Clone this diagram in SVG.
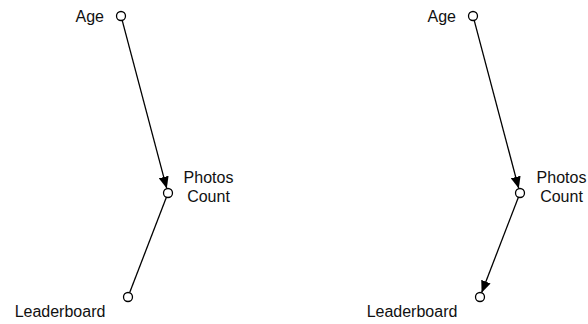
<svg xmlns="http://www.w3.org/2000/svg" width="588" height="324" viewBox="0 0 588 324">
  <style>
    .bg { fill: #ffffff; }
    .node circle { fill: #ffffff; stroke: #000000; stroke-width: 1.3; }
    .label { font-family: "Liberation Sans", Arial, Helvetica, sans-serif; font-size: 16px; fill: #111111; }
    .edge { stroke: #000000; stroke-width: 1.3; fill: none; }
    .arrow { marker-end: url(#head); }
  </style>
  <defs>
    <marker id="head" markerUnits="userSpaceOnUse" markerWidth="13" markerHeight="10" refX="12" refY="5" orient="auto">
      <path d="M0,0 L12,5 L0,10 z" fill="#000000"/>
    </marker>
  </defs>
  <rect class="bg" x="0" y="0" width="588" height="324"/>

  <!-- left graph: Age -> Photos Count - Leaderboard -->
  <g id="left">
    <g id="left-edges">
      <line class="edge arrow" x1="122.2" y1="20.4" x2="166.8" y2="188.6"/>
      <line class="edge" x1="166.4" y1="197.2" x2="129.6" y2="292.8"/>
    </g>
    <g id="left-age" class="node">
      <circle cx="121" cy="16" r="4.5"/>
      <text class="label" x="104" y="22" text-anchor="end">Age</text>
    </g>
    <g id="left-photos" class="node">
      <circle cx="168" cy="193" r="4.5"/>
      <text class="label" x="208.5" y="183" text-anchor="middle">Photos</text>
      <text class="label" x="208.5" y="202" text-anchor="middle">Count</text>
    </g>
    <g id="left-leaderboard" class="node">
      <circle cx="128" cy="297" r="4.5"/>
      <text class="label" x="60" y="317" text-anchor="middle">Leaderboard</text>
    </g>
  </g>

  <!-- right graph: Age -> Photos Count -> Leaderboard -->
  <g id="right" transform="translate(352,0)">
    <g id="right-edges">
      <line class="edge arrow" x1="122.2" y1="20.4" x2="166.8" y2="188.6"/>
      <line class="edge arrow" x1="166.4" y1="197.2" x2="129.6" y2="292.8"/>
    </g>
    <g id="right-age" class="node">
      <circle cx="121" cy="16" r="4.5"/>
      <text class="label" x="104" y="22" text-anchor="end">Age</text>
    </g>
    <g id="right-photos" class="node">
      <circle cx="168" cy="193" r="4.5"/>
      <text class="label" x="209.5" y="183" text-anchor="middle">Photos</text>
      <text class="label" x="209.5" y="202" text-anchor="middle">Count</text>
    </g>
    <g id="right-leaderboard" class="node">
      <circle cx="128" cy="297" r="4.5"/>
      <text class="label" x="60" y="317" text-anchor="middle">Leaderboard</text>
    </g>
  </g>
</svg>
